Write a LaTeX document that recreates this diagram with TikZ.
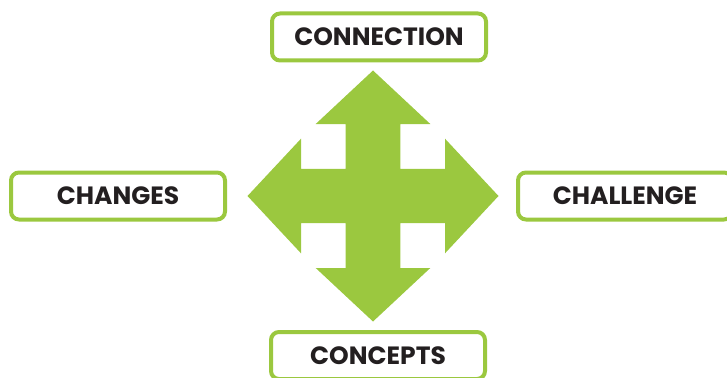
\documentclass[tikz,border=0pt]{standalone}
\usepackage{fontspec}
\setmainfont{Poppins}
\usepackage{tikz}
\usetikzlibrary{positioning}
\definecolor{leaf}{HTML}{9BC83F}
\definecolor{ink}{HTML}{231F20}
\tikzset{
	tagbox/.style={draw=leaf, line width=4pt, rounded corners=8pt, fill=white,
		minimum width=214pt, minimum height=47pt, inner sep=0pt,
		text=ink, font=\fontsize{25}{30}\selectfont\bfseries}
}

\begin{document}
\begin{tikzpicture}[x=1pt,y=-1pt]
		\useasboundingbox (0,0) rectangle (727,377);
		% four-way arrow
		\fill[leaf, shift={(373,196)}] (0,-125.5) -- (57.3,-72) -- (27.3,-72) -- (27.3,-27.2)
			-- (72,-27.2) -- (72,-57.3) -- (125.5,0) -- (72,57.3) -- (72,27.2)
			-- (27.3,27.2) -- (27.3,72) -- (57.3,72) -- (0,125.5) -- (-57.3,72)
			-- (-27.3,72) -- (-27.3,27.2) -- (-72,27.2) -- (-72,57.3) -- (-125.5,0)
			-- (-72,-57.3) -- (-72,-27.2) -- (-27.3,-27.2) -- (-27.3,-72) -- (-57.3,-72) -- cycle;
		% labels
		\node[tagbox] (conn) at (379,37) {CONNECTION};
		\node[tagbox] (chg) at (118,196) {CHANGES};
		\node[tagbox] (chal) at (625,196) {CHALLENGE};
		\node[tagbox] (conc) at (378,355.5) {CONCEPTS};
	\end{tikzpicture}
\end{document}
